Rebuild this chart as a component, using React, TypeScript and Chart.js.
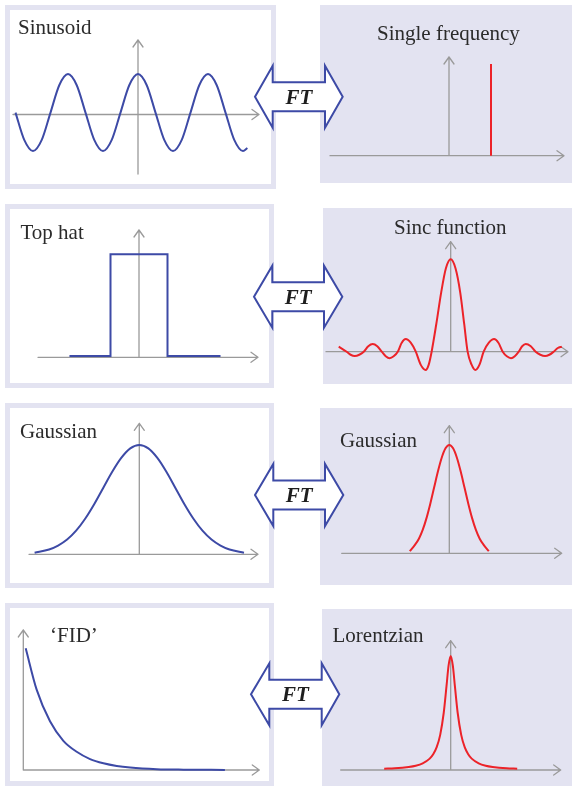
import React, { useEffect, useRef } from "react";
import { Chart, registerables } from "chart.js";

Chart.register(...registerables);

const BLUE = "#3d4aa6";
const RED = "#ec2329";
const AXIS = "#9a9a9a";
const LAV = "#e3e3f1";
const TEXT = "#2b2b2b";
const SERIF = "'Liberation Serif', 'Times New Roman', serif";

// ---- Data ----
// Sinusoid: time in 1/8-period steps, amplitude relative to peak
const sinusoidT = [-14, -13, -12, -11, -10, -9, -8, -7, -6, -5, -4, -3, -2, -1, 0, 1, 2, 3, 4, 5, 6, 7, 8, 9, 10, 11, 12, 12.5];
const sinusoidY = [0.05, -0.66, -0.95, -0.66, 0.05, 0.76, 1.05, 0.76, 0.05, -0.66, -0.95, -0.66, 0.05, 0.76, 1.05, 0.76, 0.05, -0.66, -0.95, -0.66, 0.05, 0.76, 1.05, 0.76, 0.05, -0.66, -0.95, -0.87];

// Single frequency spike
const spikeF = [1, 1];
const spikeA = [0, 1];

// Top hat
const hatT = [-2.44, -1, -1, 1, 1, 2.86];
const hatY = [0.012, 0.012, 1, 1, 0.012, 0.012];

// Sinc function
const sincF = [
  -6.22, -5.78, -5.56, -5.33, -5.08, -4.83, -4.58, -4.33, -4.08, -3.83, -3.61, -3.39, -3.17, -2.94, -2.72, -2.5, -2.22, -1.94,
  -1.67, -1.39, -1.22, -1.06, -0.8, -0.53, -0.27, 0, 0.27, 0.53, 0.75, 0.94, 1.16, 1.37, 1.6, 1.83, 2.12, 2.41, 2.65, 2.89,
  3.12, 3.35, 3.56, 3.78, 3.97, 4.17, 4.45, 4.72, 4.98, 5.24, 5.48, 5.72, 5.95, 6.17,
];
const sincY = [
  0.054, 0, -0.033, -0.047, -0.033, 0, 0.059, 0.083, 0.059, 0, -0.05, -0.071, -0.05, 0, 0.097, 0.137, 0.097, 0,
  -0.14, -0.198, -0.14, 0, 0.3, 0.64, 0.9, 1, 0.9, 0.64, 0.3, 0, -0.14, -0.198, -0.14, 0, 0.097, 0.137, 0.097, 0,
  -0.05, -0.071, -0.05, 0, 0.059, 0.083, 0.059, 0, -0.033, -0.047, -0.033, 0, 0.04, 0.054,
];

// Gaussian (time domain)
const gaussT = [-2.9, -2.5, -2.25, -2, -1.75, -1.5, -1.25, -1, -0.75, -0.5, -0.25, 0, 0.25, 0.5, 0.75, 1, 1.25, 1.5, 1.75, 2, 2.25, 2.5, 2.9];
const gaussY = [0.015, 0.044, 0.08, 0.135, 0.216, 0.325, 0.458, 0.607, 0.755, 0.882, 0.969, 1, 0.969, 0.882, 0.755, 0.607, 0.458, 0.325, 0.216, 0.135, 0.08, 0.044, 0.015];

// Gaussian (frequency domain)
const gaussF = [-2.6, -2.25, -2, -1.75, -1.5, -1.25, -1, -0.75, -0.5, -0.25, 0, 0.25, 0.5, 0.75, 1, 1.25, 1.5, 1.75, 2, 2.25, 2.6];
const gaussFY = [0.02, 0.08, 0.135, 0.216, 0.325, 0.458, 0.607, 0.755, 0.882, 0.969, 1, 0.969, 0.882, 0.755, 0.607, 0.458, 0.325, 0.216, 0.135, 0.08, 0.02];

// 'FID' decay
const fidT = [0.09, 0.5, 1, 1.5, 2, 2.5, 3, 3.5, 4, 5, 6, 7.55];
const fidY = [1, 0.66, 0.4, 0.24, 0.15, 0.09, 0.055, 0.033, 0.02, 0.007, 0.003, 0.001];

// Lorentzian
const lorF = [-9.5, -8, -6, -5, -4, -3, -2.5, -2, -1.5, -1, -0.6, -0.3, 0, 0.3, 0.6, 1, 1.5, 2, 2.5, 3, 4, 5, 6, 8, 9.5];
const lorY = [0.011, 0.015, 0.027, 0.038, 0.059, 0.1, 0.138, 0.2, 0.308, 0.5, 0.735, 0.917, 1, 0.917, 0.735, 0.5, 0.308, 0.2, 0.138, 0.1, 0.059, 0.038, 0.027, 0.015, 0.011];

// Titles
const titles = [
  { text: "Sinusoid", x: 18, y: 34 },
  { text: "Single frequency", x: 377, y: 40 },
  { text: "Top hat", x: 20.5, y: 239 },
  { text: "Sinc function", x: 394, y: 234 },
  { text: "Gaussian", x: 20, y: 437.5 },
  { text: "Gaussian", x: 340, y: 446.5 },
  { text: "\u2018FID\u2019", x: 50, y: 641.5 },
  { text: "Lorentzian", x: 332.5, y: 641.5 },
];

// ---- Layout ----
type Panel = {
  kind: "left" | "right";
  rect: { left: number; top: number; w: number; h: number };
  ox: number; oy: number; sx: number; sy: number;
  xa: [number, number]; ya: [number, number]; // axis extents in page px
  xs: number[]; ys: number[]; color: string; smooth: boolean;
};

const panels: Panel[] = [
  { kind: "left", rect: { left: 5, top: 5, w: 271, h: 184 }, ox: 138, oy: 114.5, sx: 8.75, sy: 38.5, xa: [13, 259], ya: [174, 40], xs: sinusoidT, ys: sinusoidY, color: BLUE, smooth: true },
  { kind: "right", rect: { left: 320, top: 5, w: 252, h: 178 }, ox: 449, oy: 155.7, sx: 42, sy: 91.7, xa: [330, 564], ya: [155.7, 57], xs: spikeF, ys: spikeA, color: RED, smooth: false },
  { kind: "left", rect: { left: 5, top: 204, w: 269, h: 184 }, ox: 139, oy: 357.3, sx: 28.5, sy: 103, xa: [38, 258], ya: [357.3, 230], xs: hatT, ys: hatY, color: BLUE, smooth: false },
  { kind: "right", rect: { left: 323, top: 208, w: 249, h: 176 }, ox: 450.7, oy: 351.7, sx: 18, sy: 92.4, xa: [326, 568], ya: [351.7, 241.7], xs: sincF, ys: sincY, color: RED, smooth: true },
  { kind: "left", rect: { left: 5, top: 403, w: 269, h: 185 }, ox: 139.3, oy: 554.3, sx: 36.1, sy: 109.3, xa: [29, 258], ya: [554.3, 423.3], xs: gaussT, ys: gaussY, color: BLUE, smooth: true },
  { kind: "right", rect: { left: 320, top: 408, w: 252, h: 177 }, ox: 449.3, oy: 553.3, sx: 15.2, sy: 108.3, xa: [341.7, 561.7], ya: [553.3, 425.7], xs: gaussF, ys: gaussFY, color: RED, smooth: true },
  { kind: "left", rect: { left: 5, top: 603, w: 269, h: 183 }, ox: 23.3, oy: 770, sx: 26.7, sy: 121.7, xa: [23.3, 259.3], ya: [770, 630], xs: fidT, ys: fidY, color: BLUE, smooth: true },
  { kind: "right", rect: { left: 322, top: 609, w: 250, h: 177 }, ox: 450.7, oy: 770, sx: 7, sy: 114, xa: [340.7, 560.7], ya: [770, 640.7], xs: lorF, ys: lorY, color: RED, smooth: true },
];

const arrows = [
  { c: 96.7, xl: 255, x1: 272.7, x2: 325, xr: 342.7 },
  { c: 296.7, xl: 254, x1: 272.3, x2: 324, xr: 342.3 },
  { c: 495, xl: 255, x1: 273.3, x2: 325, xr: 343.3 },
  { c: 694.3, xl: 251, x1: 269.3, x2: 321.7, xr: 339.3 },
];

const axesPlugin = {
  id: "ftAxes",
  beforeDatasetsDraw(chart: any, _args: any, opts: any) {
    const { ctx } = chart;
    const xs = chart.scales.x;
    const ys = chart.scales.y;
    const x0 = xs.getPixelForValue(0);
    const y0 = ys.getPixelForValue(0);
    const xa0 = xs.getPixelForValue(opts.xa[0]);
    const xa1 = xs.getPixelForValue(opts.xa[1]);
    const ya0 = ys.getPixelForValue(opts.ya[0]);
    const ya1 = ys.getPixelForValue(opts.ya[1]);
    ctx.save();
    ctx.strokeStyle = AXIS;
    ctx.lineWidth = 1.3;
    ctx.lineCap = "round";
    ctx.lineJoin = "round";
    ctx.beginPath();
    ctx.moveTo(xa0, y0);
    ctx.lineTo(xa1, y0);
    ctx.moveTo(xa1 - 7, y0 - 5);
    ctx.lineTo(xa1, y0);
    ctx.lineTo(xa1 - 7, y0 + 5);
    ctx.moveTo(x0, ya0);
    ctx.lineTo(x0, ya1);
    ctx.moveTo(x0 - 5, ya1 + 7);
    ctx.lineTo(x0, ya1);
    ctx.lineTo(x0 + 5, ya1 + 7);
    ctx.stroke();
    ctx.restore();
  },
};

function ChartPanel({ p }: { p: Panel }) {
  const ref = useRef<HTMLCanvasElement | null>(null);
  useEffect(() => {
    if (!ref.current) return;
    const r = p.rect;
    const xmin = (r.left - p.ox) / p.sx;
    const xmax = (r.left + r.w - p.ox) / p.sx;
    const ymax = (p.oy - r.top) / p.sy;
    const ymin = (p.oy - (r.top + r.h)) / p.sy;
    const xa = [(p.xa[0] - p.ox) / p.sx, (p.xa[1] - p.ox) / p.sx];
    const ya = [(p.oy - p.ya[0]) / p.sy, (p.oy - p.ya[1]) / p.sy];
    const chart = new Chart(ref.current, {
      type: "scatter",
      data: {
        datasets: [
          {
            data: p.xs.map((x, i) => ({ x, y: p.ys[i] })),
            showLine: true,
            borderColor: p.color,
            borderWidth: 2,
            pointRadius: 0,
            fill: false,
            tension: 0,
            cubicInterpolationMode: p.smooth ? "monotone" : "default",
            borderJoinStyle: "miter",
          } as any,
        ],
      },
      options: {
        animation: false,
        responsive: false,
        devicePixelRatio: 1,
        layout: { padding: 0 },
        events: [],
        scales: {
          x: { type: "linear", display: false, min: xmin, max: xmax },
          y: { type: "linear", display: false, min: ymin, max: ymax },
        },
        plugins: {
          legend: { display: false },
          tooltip: { enabled: false },
          title: { display: false },
          ftAxes: { xa, ya },
        } as any,
      },
      plugins: [axesPlugin],
    });
    return () => chart.destroy();
  }, [p]);
  const r = p.rect;
  return (
    <canvas
      ref={ref}
      width={r.w}
      height={r.h}
      style={{ position: "absolute", left: r.left, top: r.top, width: r.w, height: r.h }}
    />
  );
}

export default function App() {
  return (
    <div style={{ position: "absolute", left: 0, top: 0, width: 572, height: 786, background: "#ffffff", overflow: "hidden" }}>
      {panels.map((p, i) => (
        <div
          key={"bg" + i}
          style={{
            position: "absolute",
            left: p.rect.left,
            top: p.rect.top,
            width: p.rect.w,
            height: p.rect.h,
            boxSizing: "border-box",
            background: p.kind === "left" ? "#ffffff" : LAV,
            border: p.kind === "left" ? `5px solid ${LAV}` : "none",
          }}
        />
      ))}
      {panels.map((p, i) => (
        <ChartPanel key={"c" + i} p={p} />
      ))}
      <svg
        width={572}
        height={786}
        style={{ position: "absolute", left: 0, top: 0, pointerEvents: "none" }}
      >
        {titles.map((t, i) => (
          <text key={"t" + i} x={t.x} y={t.y} fontFamily={SERIF} fontSize={21} fill={TEXT}>
            {t.text}
          </text>
        ))}
        {arrows.map((a, i) => {
          const H = 31;
          const h = 14.5;
          const d = `M ${a.xl} ${a.c} L ${a.x1} ${a.c - H} L ${a.x1} ${a.c - h} L ${a.x2} ${a.c - h} L ${a.x2} ${a.c - H} L ${a.xr} ${a.c} L ${a.x2} ${a.c + H} L ${a.x2} ${a.c + h} L ${a.x1} ${a.c + h} L ${a.x1} ${a.c + H} Z`;
          return (
            <g key={"a" + i}>
              <path d={d} fill="#ffffff" stroke={BLUE} strokeWidth={2} strokeLinejoin="miter" />
              <text
                x={(a.x1 + a.x2) / 2}
                y={a.c + 7}
                textAnchor="middle"
                fontFamily={SERIF}
                fontSize={21}
                fontWeight="bold"
                fontStyle="italic"
                fill="#1e1e1e"
              >
                FT
              </text>
            </g>
          );
        })}
      </svg>
    </div>
  );
}
